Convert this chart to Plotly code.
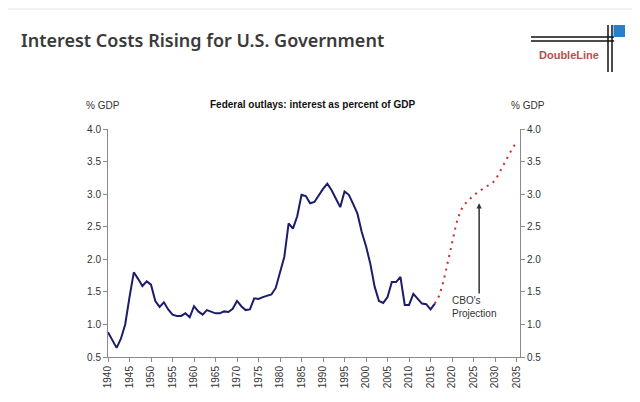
import plotly.graph_objects as go

hist_years = list(range(1940, 2017))
hist_values = [0.88, 0.76, 0.64, 0.78, 1.00, 1.42, 1.80, 1.70, 1.59, 1.66,
               1.61, 1.36, 1.27, 1.34, 1.23, 1.15, 1.13, 1.13, 1.17, 1.11,
               1.28, 1.20, 1.15, 1.22, 1.20, 1.17, 1.17, 1.20, 1.19, 1.24,
               1.36, 1.28, 1.22, 1.23, 1.40, 1.39, 1.42, 1.44, 1.46, 1.56,
               1.80, 2.04, 2.55, 2.47, 2.66, 2.99, 2.97, 2.86, 2.88, 2.99,
               3.08, 3.16, 3.06, 2.93, 2.80, 3.04, 2.99, 2.85, 2.70, 2.42,
               2.20, 1.93, 1.58, 1.36, 1.33, 1.42, 1.65, 1.65, 1.73, 1.30,
               1.30, 1.47, 1.39, 1.32, 1.31, 1.23, 1.32]

proj_years = list(range(2016, 2036))
proj_values = [1.32, 1.44, 1.66, 1.98, 2.25, 2.55, 2.75, 2.85, 2.92, 2.98,
               3.03, 3.08, 3.12, 3.15, 3.21, 3.33, 3.46, 3.58, 3.70, 3.80]

tick_years = list(range(1940, 2040, 5))
y_ticks = [0.5, 1.0, 1.5, 2.0, 2.5, 3.0, 3.5, 4.0]

arrow_x = 2026.3
arrow_y_top = 2.86
arrow_y_bottom = 1.45

# Figure geometry (page body has an 8px margin)
OFF = 8
W, H = 632, 394
L, R, T, B = 100, 120, 121, 45
PW, PH = W - L - R, H - T - B


def px(x):
    return (x - OFF - L) / PW


def py(y):
    return 1 - (y - OFF - T) / PH


fig = go.Figure()
fig.add_trace(go.Scatter(x=hist_years, y=hist_values, mode="lines",
                         line=dict(color="#1c1c6b", width=2), showlegend=False))
fig.add_trace(go.Scatter(x=proj_years, y=proj_values, mode="lines",
                         line=dict(color="#cc2b2b", width=2, dash="2px,5px"),
                         showlegend=False))
fig.add_trace(go.Scatter(x=[None], y=[None], yaxis="y2", showlegend=False))

tickfont = dict(family="Liberation Sans, Arial, sans-serif", size=10, color="#333333")
axis_common = dict(showgrid=False, zeroline=False, showline=True, linecolor="#8a8a8a",
                   linewidth=1, ticks="outside", ticklen=4, tickcolor="#8a8a8a",
                   tickfont=tickfont)

fig.update_layout(
    width=W, height=H,
    margin=dict(l=L, r=R, t=T, b=B),
    paper_bgcolor="white", plot_bgcolor="white",
    xaxis=dict(range=[1940, 2035.8], tickvals=tick_years,
               ticktext=[str(y) for y in tick_years], tickangle=-90, **axis_common),
    yaxis=dict(range=[0.5, 4.0], tickvals=y_ticks,
               ticktext=[f"{v:.1f}" for v in y_ticks], **axis_common),
    yaxis2=dict(range=[0.5, 4.0], tickvals=y_ticks, overlaying="y", side="right",
                ticktext=[f"{v:.1f}" for v in y_ticks], **axis_common),
)

# Slide border (faint)
fig.add_shape(type="rect", xref="paper", yref="paper", x0=px(4), x1=px(700), y0=py(500), y1=py(9),
              line=dict(color="#e4e4e4", width=1))

# Title
fig.add_annotation(xref="paper", yref="paper", x=px(19), y=py(40), xanchor="left", yanchor="middle",
                   text="Interest Costs Rising for U.S. Government", showarrow=False,
                   font=dict(family="Noto Sans, sans-serif", size=18, color="#3a3a3a", weight=600))

# Subtitle and axis unit labels
fig.add_annotation(xref="paper", yref="paper", x=px(312), y=py(104), xanchor="center", yanchor="middle",
                   text="<b>Federal outlays: interest as percent of GDP</b>", showarrow=False,
                   font=dict(family="Liberation Sans, Arial, sans-serif", size=10, color="#111111"))
fig.add_annotation(xref="paper", yref="paper", x=px(103), y=py(105), xanchor="center", yanchor="middle",
                   text="% GDP", showarrow=False, font=tickfont)
fig.add_annotation(xref="paper", yref="paper", x=px(528), y=py(105), xanchor="center", yanchor="middle",
                   text="% GDP", showarrow=False, font=tickfont)

# CBO arrow and label
fig.add_annotation(x=arrow_x, y=arrow_y_top, ax=arrow_x, ay=arrow_y_bottom,
                   xref="x", yref="y", axref="x", ayref="y", text="", showarrow=True,
                   arrowhead=2, arrowsize=0.7, arrowwidth=1.5, arrowcolor="#333333")
fig.add_annotation(x=2019.6, y=1.26, xref="x", yref="y", xanchor="left", yanchor="middle",
                   align="left", text="CBO's<br>Projection", showarrow=False,
                   font=dict(family="Liberation Sans, Arial, sans-serif", size=10, color="#333333"))

# DoubleLine logo
for yy in (37, 41):
    fig.add_shape(type="line", xref="paper", yref="paper", x0=px(531), x1=px(614), y0=py(yy), y1=py(yy),
                  line=dict(color="#111111", width=1.5))
for xx in (608, 612):
    fig.add_shape(type="line", xref="paper", yref="paper", x0=px(xx), x1=px(xx), y0=py(72), y1=py(25),
                  line=dict(color="#111111", width=1.5))
fig.add_shape(type="rect", xref="paper", yref="paper", x0=px(613.5), x1=px(625), y0=py(37), y1=py(25),
              line=dict(width=0), fillcolor="#2a7fc8")
fig.add_annotation(xref="paper", yref="paper", x=px(569), y=py(55), xanchor="center", yanchor="middle",
                   text="<b>DoubleLine</b>", showarrow=False,
                   font=dict(family="Liberation Sans, Arial, sans-serif", size=11, color="#b5504c"))

fig.write_html("out.html")
